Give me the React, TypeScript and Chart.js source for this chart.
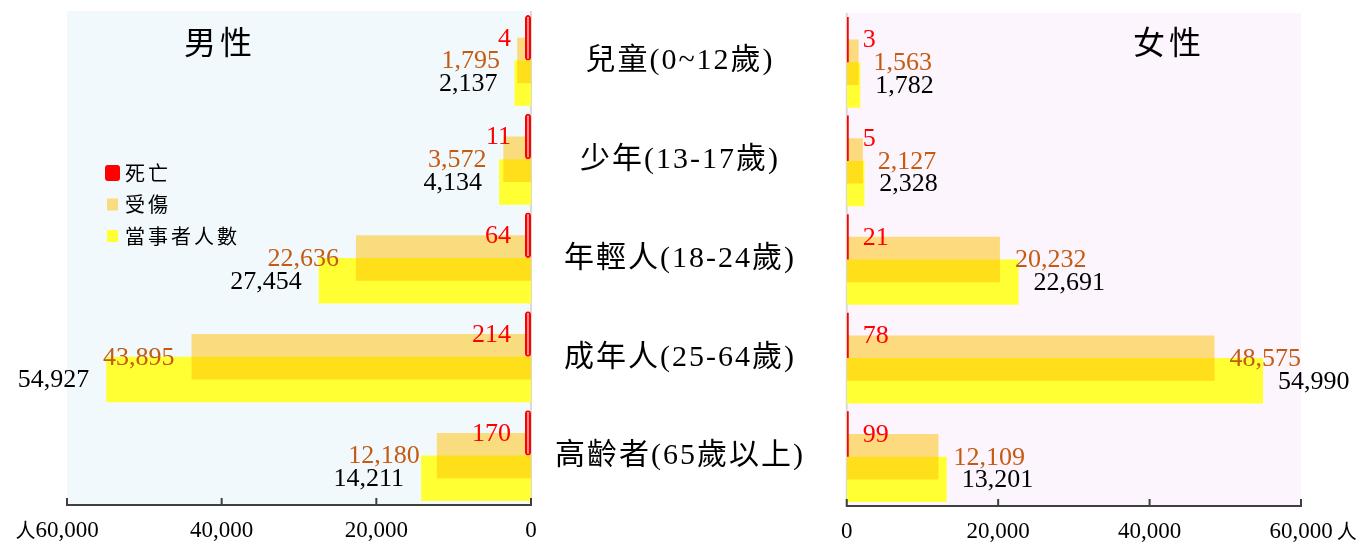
import React, { useEffect, useRef } from 'react';
import { Chart, registerables } from 'chart.js';

Chart.register(...registerables);

// ---------- data ----------
const categories = ['兒童(0~12歲)', '少年(13-17歲)', '年輕人(18-24歲)', '成年人(25-64歲)', '高齡者(65歲以上)'];
const seriesNames = ['死亡', '受傷', '當事者人數'];

const maleDeaths = [4, 11, 64, 214, 170];
const maleInjured = [1795, 3572, 22636, 43895, 12180];
const maleTotal = [2137, 4134, 27454, 54927, 14211];

const femaleDeaths = [3, 5, 21, 78, 99];
const femaleInjured = [1563, 2127, 20232, 48575, 12109];
const femaleTotal = [1782, 2328, 22691, 54990, 13201];

const axisTicks = [0, 20000, 40000, 60000];
const axisMax = 60000;
const panelTitles = ['男性', '女性'];
const unitLabel = '人';

// ---------- styles ----------
const SERIF = '"Liberation Serif", "Times New Roman", serif';
const CJK = '"Noto Sans CJK TC", "Noto Sans CJK SC", sans-serif';
const MIXED = '"Liberation Serif", "Noto Sans CJK TC", serif';
const RED = '#FF0000';
const TAN = 'rgba(255, 192, 0, 0.5)';
const YELLOW = '#FFFF33';
const INJ_TEXT = '#C55A11';

const fmt = (v: number) => Number(v).toLocaleString('en-US');

const panelPlugin = {
  id: 'panel',
  beforeDraw(chart: any, _a: any, o: any) {
    const { ctx, chartArea: a } = chart;
    ctx.save();
    ctx.fillStyle = o.bg;
    ctx.fillRect(a.left, a.top, a.right - a.left, a.bottom - a.top);
    const x0 = chart.scales.x.getPixelForValue(0);
    ctx.strokeStyle = '#D9D9D9';
    ctx.lineWidth = 2;
    ctx.beginPath();
    ctx.moveTo(x0, a.top);
    ctx.lineTo(x0, a.bottom);
    ctx.stroke();
    ctx.restore();
  },
  afterDatasetsDraw(chart: any, _a: any, o: any) {
    const { ctx, chartArea: a } = chart;
    const xs = chart.scales.x;
    const ys = chart.scales.y;
    ctx.save();

    // x axis line and inward ticks
    ctx.strokeStyle = '#404040';
    ctx.lineWidth = 2;
    ctx.beginPath();
    ctx.moveTo(a.left, a.bottom);
    ctx.lineTo(a.right, a.bottom);
    xs.ticks.forEach((t: any) => {
      const px = xs.getPixelForValue(t.value);
      ctx.moveTo(px, a.bottom + 1);
      ctx.lineTo(px, a.bottom - 7);
    });
    ctx.stroke();

    // value labels
    const dir = o.reversed ? -1 : 1;
    const zero = xs.getPixelForValue(0);
    ctx.font = `26px ${SERIF}`;
    ctx.textBaseline = 'middle';
    ctx.textAlign = o.reversed ? 'right' : 'left';
    chart.data.datasets.forEach((ds: any, di: number) => {
      const meta = chart.getDatasetMeta(di);
      meta.data.forEach((el: any, i: number) => {
        const v = ds.data[i];
        const x = ds.labelAt === 'base' ? zero + dir * o.deathGap : el.x + dir * o.valueGap;
        ctx.fillStyle = ds.labelColor;
        ctx.fillText(fmt(v), x, el.y + 1);
      });
    });

    // panel title
    ctx.font = `32px ${CJK}`;
    (ctx as any).letterSpacing = '4px';
    ctx.textAlign = 'center';
    ctx.fillStyle = '#000';
    ctx.fillText(o.title, o.titleX, o.titleY);
    (ctx as any).letterSpacing = '0px';

    // category labels
    if (o.categoryLabels) {
      ctx.font = `30px ${MIXED}`;
      (ctx as any).letterSpacing = '2px';
      ctx.textAlign = 'center';
      chart.data.labels.forEach((lab: string, i: number) => {
        ctx.fillText(lab, a.right + o.catCenter, ys.getPixelForValue(i) + 1);
      });
      (ctx as any).letterSpacing = '0px';
    }

    // legend
    if (o.legend) {
      const L = o.legend;
      chart.data.datasets.forEach((ds: any, i: number) => {
        const cy = L.y + i * L.gap;
        if (i === 0) {
          ctx.fillStyle = RED;
          ctx.beginPath();
          (ctx as any).roundRect(L.x, cy - 8, 15, 16, 3);
          ctx.fill();
        } else {
          ctx.fillStyle = ds.backgroundColor;
          ctx.fillRect(L.x + 2, cy - 6, 11, 12);
        }
        ctx.font = `20px ${CJK}`;
        (ctx as any).letterSpacing = '3px';
        ctx.textAlign = 'left';
        ctx.fillStyle = '#000';
        ctx.fillText(ds.label, L.textX, cy);
        (ctx as any).letterSpacing = '0px';
      });
    }

    // unit label next to the max tick
    const pMax = xs.getPixelForValue(axisMax);
    ctx.font = `23px ${SERIF}`;
    const w = ctx.measureText(fmt(axisMax)).width;
    ctx.font = `20px ${CJK}`;
    ctx.fillStyle = '#000';
    const uy = xs.top + 11 + 14;
    if (o.reversed) {
      ctx.textAlign = 'right';
      ctx.fillText(unitLabel, pMax - w / 2, uy);
    } else {
      ctx.textAlign = 'left';
      ctx.fillText(unitLabel, pMax + w / 2 + 4, uy);
    }
    ctx.restore();
  },
};

function buildConfig(male: boolean): any {
  const deaths = male ? maleDeaths : femaleDeaths;
  const injured = male ? maleInjured : femaleInjured;
  const totals = male ? maleTotal : femaleTotal;
  return {
    type: 'bar',
    data: {
      labels: categories,
      datasets: [
        male
          ? {
              label: seriesNames[0], data: deaths,
              backgroundColor: 'rgba(255,140,140,1)', borderColor: RED, borderWidth: 2,
              borderRadius: 3, borderSkipped: false, minBarLength: 6,
              labelColor: RED, labelAt: 'base',
            }
          : {
              label: seriesNames[0], data: deaths,
              backgroundColor: RED, borderWidth: 0, minBarLength: 2,
              labelColor: RED, labelAt: 'base',
            },
        { label: seriesNames[1], data: injured, backgroundColor: TAN, borderWidth: 0, labelColor: INJ_TEXT },
        { label: seriesNames[2], data: totals, backgroundColor: YELLOW, borderWidth: 0, labelColor: '#000' },
      ],
    },
    options: {
      indexAxis: 'y',
      responsive: false,
      animation: false,
      devicePixelRatio: 1,
      datasets: { bar: { categoryPercentage: 0.69, barPercentage: 2.0 } },
      layout: {
        padding: male
          ? { left: 67, right: 298, top: 11, bottom: 0 }
          : { left: 13, right: 58, top: 13, bottom: 0 },
      },
      scales: {
        x: {
          type: 'linear',
          min: 0,
          max: axisMax,
          reverse: male,
          afterBuildTicks: (s: any) => { s.ticks = axisTicks.map((v) => ({ value: v })); },
          afterFit: (s: any) => { s.height = male ? 40 : 39; },
          ticks: {
            font: { family: SERIF, size: 23 },
            color: '#000',
            padding: 12,
            maxRotation: 0,
            autoSkip: false,
            callback: (v: any) => fmt(v),
          },
          grid: { display: false, drawTicks: false },
          border: { display: false },
        },
        y: { type: 'category', display: false, offset: true, grid: { display: false } },
      },
      plugins: {
        legend: { display: false },
        tooltip: { enabled: false },
        panel: {
          bg: male ? '#F2F9FD' : '#FDF5FD',
          reversed: male,
          deathGap: male ? 20 : 16,
          valueGap: male ? 17 : 15,
          title: male ? panelTitles[0] : panelTitles[1],
          titleX: male ? 220 : 340,
          titleY: 42,
          categoryLabels: male,
          catCenter: 149,
          legend: male ? { x: 105, y: 173, gap: 31.5, textX: 125 } : null,
        },
      },
    },
    plugins: [panelPlugin],
  };
}

export default function App() {
  const leftRef = useRef<HTMLCanvasElement>(null);
  const rightRef = useRef<HTMLCanvasElement>(null);
  useEffect(() => {
    const c1 = new Chart(leftRef.current as HTMLCanvasElement, buildConfig(true));
    const c2 = new Chart(rightRef.current as HTMLCanvasElement, buildConfig(false));
    return () => {
      c1.destroy();
      c2.destroy();
    };
  }, []);
  return (
    <div style={{ position: 'absolute', left: 0, top: 0, width: 1359, height: 545, background: '#fff' }}>
      <canvas ref={leftRef} width={829} height={545}
        style={{ position: 'absolute', left: 0, top: 0, width: 829, height: 545 }} />
      <canvas ref={rightRef} width={530} height={545}
        style={{ position: 'absolute', left: 829, top: 0, width: 530, height: 545 }} />
    </div>
  );
}
